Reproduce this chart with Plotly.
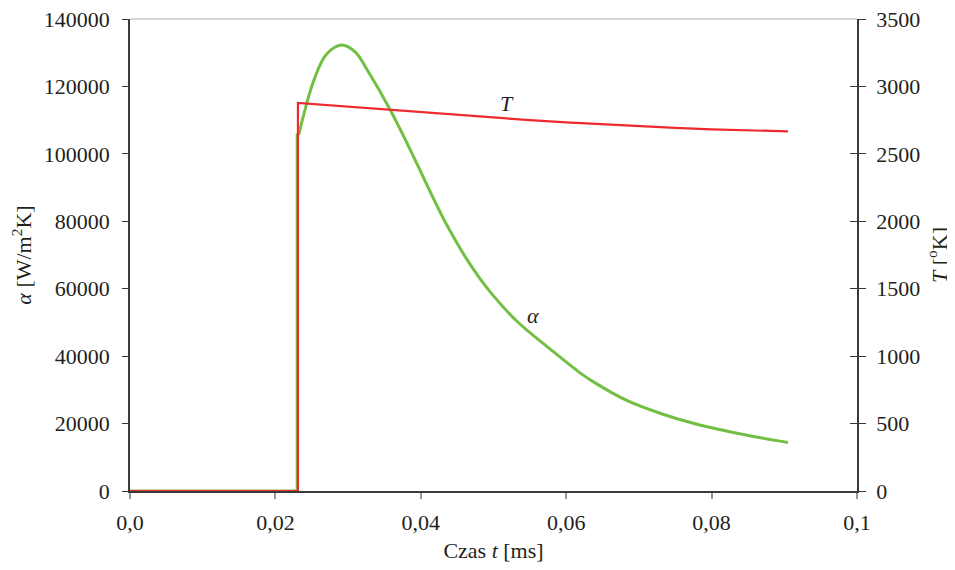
import plotly.graph_objects as go

# alpha (heat transfer coefficient) [W/m2K] vs time [ms] -- step part
t_alpha_step = [0.0, 0.0230, 0.0230, 0.0232]
alpha_step = [0, 0, 105600, 105600]
# alpha -- smooth part after ignition
t_alpha = [0.0232, 0.0253, 0.0270, 0.0291, 0.0310, 0.0326, 0.0358,
           0.0390, 0.0404, 0.0423, 0.0436, 0.0464, 0.0496, 0.0533, 0.0578,
           0.0620, 0.0638, 0.0684, 0.0730, 0.0776, 0.0822, 0.0867, 0.0905]
alpha = [105600, 121900, 129500, 132300, 130200, 125000, 113000,
         99200, 92800, 84300, 78800, 68500, 58900, 50200, 42100,
         34900, 32300, 26800, 23000, 20000, 17700, 15800, 14400]

# temperature T [K] vs time [ms]
t_temp = [0.0, 0.0231, 0.0231, 0.030, 0.035, 0.040, 0.045, 0.050, 0.055, 0.060,
          0.065, 0.070, 0.075, 0.080, 0.085, 0.0905]
temp = [0, 0, 2877, 2850, 2828, 2806, 2786, 2768, 2750, 2733,
        2718, 2704, 2692, 2681, 2673, 2667]

x_ticks = [0, 0.02, 0.04, 0.06, 0.08, 0.1]
x_ticktext = ["0,0", "0,02", "0,04", "0,06", "0,08", "0,1"]
y_ticks = [0, 20000, 40000, 60000, 80000, 100000, 120000, 140000]
y2_ticks = [0, 500, 1000, 1500, 2000, 2500, 3000, 3500]

GREEN = "#72bf44"
RED = "#ee2a2e"
TXT = "#231f20"
AX = "#3a3a3a"
FONT = "Liberation Serif, Times New Roman, serif"
FS = 22

fig = go.Figure()
fig.add_trace(go.Scatter(x=t_alpha_step, y=alpha_step, mode="lines",
                         line=dict(color=GREEN, width=3), yaxis="y",
                         showlegend=False, hoverinfo="skip"))
fig.add_trace(go.Scatter(x=t_alpha, y=alpha, mode="lines",
                         line=dict(color=GREEN, width=3, shape="spline", smoothing=1.0),
                         yaxis="y", showlegend=False, hoverinfo="skip"))
fig.add_trace(go.Scatter(x=t_temp, y=temp, mode="lines",
                         line=dict(color=RED, width=2.2), yaxis="y2",
                         showlegend=False, hoverinfo="skip"))
# invisible trace to activate the inside-tick overlay axis
fig.add_trace(go.Scatter(x=t_temp, y=temp, mode="lines",
                         line=dict(color="rgba(0,0,0,0)", width=0), yaxis="y3",
                         showlegend=False, hoverinfo="skip"))

fig.update_layout(
    width=947, height=562,
    margin=dict(l=122, r=98, t=11, b=79, autoexpand=False),
    plot_bgcolor="white", paper_bgcolor="white",
    font=dict(family=FONT, size=FS, color=TXT),
    xaxis=dict(range=[0, 0.1], tickvals=x_ticks, ticktext=x_ticktext, automargin=False,
               showgrid=False, zeroline=False, showline=True, linecolor=AX, linewidth=1.5,
               ticks="outside", ticklen=6, tickcolor="#999999", tickwidth=1.5,
               ticklabelstandoff=5, ticklabeloverflow="allow",
               title=dict(text="Czas <i>t</i> [ms]", standoff=8,
                          font=dict(family=FONT, size=FS, color=TXT))),
    yaxis=dict(range=[0, 140000], tickvals=y_ticks, ticktext=[str(v) for v in y_ticks],
               automargin=False, ticklabeloverflow="allow",
               showgrid=False, zeroline=False, showline=True, linecolor=AX, linewidth=1.5,
               ticks="outside", ticklen=6, tickcolor=AX, tickwidth=1.2,
               ticklabelstandoff=8,
               title=dict(text="<i>α</i> [W/m<sup>2</sup>K]", standoff=8,
                          font=dict(family=FONT, size=FS, color=TXT))),
    yaxis2=dict(range=[0, 3500], tickvals=y2_ticks, ticktext=[str(v) for v in y2_ticks],
                overlaying="y", side="right", automargin=False, ticklabeloverflow="allow",
                showgrid=False, zeroline=False, showline=True, linecolor=AX, linewidth=1.5,
                ticks="outside", ticklen=7, tickcolor=AX, tickwidth=1.2,
                ticklabelstandoff=6,
                title=dict(text="<i>T</i> [<sup>o</sup>K]", standoff=12,
                           font=dict(family=FONT, size=FS, color=TXT))),
    yaxis3=dict(range=[0, 3500], tickvals=y2_ticks, overlaying="y", side="right",
                automargin=False,
                showgrid=False, zeroline=False, showline=False,
                ticks="inside", ticklen=7, tickcolor=AX, tickwidth=1.2,
                showticklabels=False),
    shapes=[dict(type="line", xref="paper", yref="y domain", x0=0, x1=1, y0=1, y1=1,
                 line=dict(color="#c8c8c8", width=1.5), layer="below")],
    annotations=[
        dict(x=0.0519, y=2875, xref="x", yref="y2", text="<i>T</i>", showarrow=False,
             font=dict(family=FONT, size=FS, color=TXT)),
        dict(x=0.0555, y=52000, xref="x", yref="y", text="<i>α</i>", showarrow=False,
             font=dict(family=FONT, size=FS, color=TXT)),
    ],
)

fig.write_html("out.html")
